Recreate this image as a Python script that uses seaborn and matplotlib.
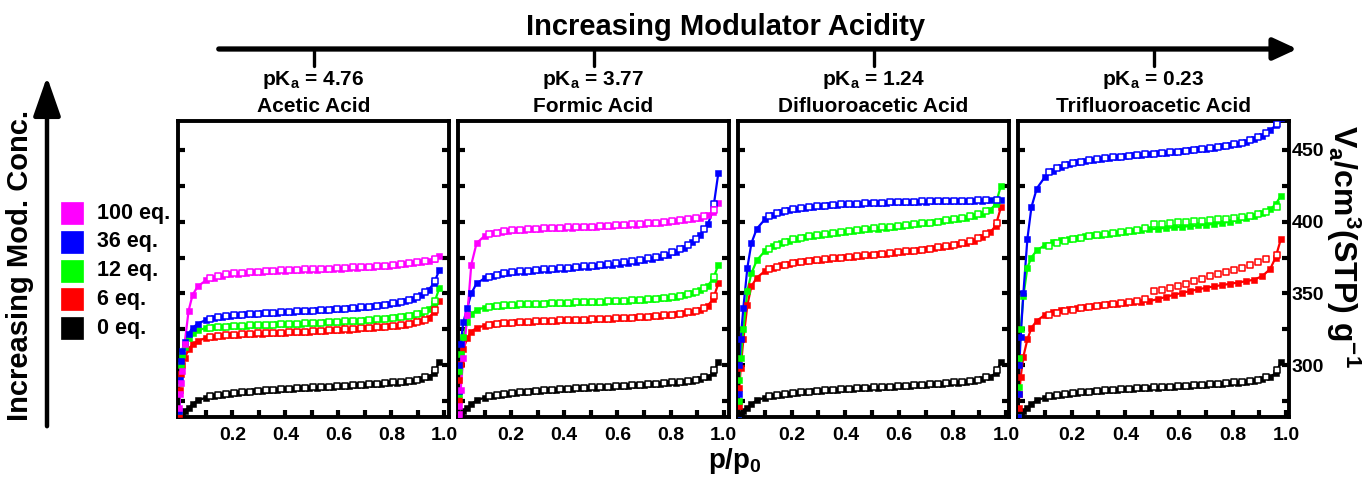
import numpy as np
import pandas as pd
import matplotlib.pyplot as plt
import seaborn as sns
from matplotlib.patches import Rectangle, FancyArrowPatch
from matplotlib.lines import Line2D

# ==========================================
# DATA (read off the isotherms)
# ==========================================
p_ads = [0.0005, 0.002, 0.005, 0.01, 0.02, 0.035, 0.05, 0.07, 0.10, 0.13, 0.16, 0.19, 0.22,
         0.25, 0.28, 0.31, 0.34, 0.37, 0.40, 0.43, 0.46, 0.49, 0.52, 0.55, 0.58, 0.61, 0.64,
         0.67, 0.70, 0.73, 0.76, 0.79, 0.82, 0.85, 0.88, 0.91, 0.94, 0.96, 0.98]
p_des = [0.965, 0.925, 0.895, 0.865, 0.835, 0.805, 0.775, 0.745, 0.715, 0.685, 0.655, 0.625,
         0.595, 0.565, 0.535, 0.505, 0.475, 0.445, 0.415, 0.385, 0.355, 0.325, 0.295, 0.265,
         0.235, 0.205, 0.175, 0.145, 0.115]

# 0 eq. (unmodulated, same sample in every panel)
eq0_ads = [250, 258, 263, 266, 268.5, 270, 273, 275.5, 277.5, 278.7, 279.5, 280.2, 280.8, 281.3,
           281.8, 282.2, 282.6, 283.0, 283.3, 283.6, 283.9, 284.2, 284.5, 284.8, 285.1, 285.4,
           285.7, 286.0, 286.3, 286.7, 287.1, 287.5, 288.0, 288.6, 289.3, 290.3, 292.0, 294.5, 302]
eq0_des = [297, 291.5, 290.0, 289.2, 288.6, 288.1, 287.6, 287.2, 286.8, 286.4, 286.1, 285.8, 285.5,
           285.2, 284.9, 284.6, 284.3, 284.0, 283.7, 283.4, 283.0, 282.6, 282.2, 281.7, 281.2,
           280.7, 280.1, 279.3, 278.3]

# Acetic acid
aa100_ads = [270, 280, 288, 296, 315, 338, 349, 355, 359, 361, 362.3, 363.2, 363.8, 364.3, 364.7,
             365.0, 365.3, 365.6, 365.8, 366.0, 366.2, 366.4, 366.6, 366.8, 367.0, 367.3, 367.6,
             367.9, 368.2, 368.5, 368.9, 369.3, 369.8, 370.3, 371.0, 371.8, 372.8, 374.0, 376]
aa100_des = [374.3, 372.5, 371.6, 370.9, 370.3, 369.8, 369.4, 369.0, 368.7, 368.4, 368.1, 367.8,
             367.5, 367.3, 367.1, 366.9, 366.7, 366.5, 366.3, 366.1, 365.8, 365.5, 365.2, 364.8,
             364.4, 363.9, 363.2, 362.3, 361.0]
aa36_ads = [268, 290, 303, 310, 316, 322, 326, 329, 331.5, 332.8, 333.8, 334.5, 335.0, 335.4, 335.8,
            336.1, 336.4, 336.7, 337.0, 337.3, 337.6, 337.9, 338.2, 338.5, 338.9, 339.3, 339.7,
            340.1, 340.6, 341.1, 341.7, 342.4, 343.3, 344.5, 346.2, 348.7, 352.5, 357, 366]
aa36_des = [358.5, 351, 347.8, 345.6, 344.1, 343.0, 342.2, 341.5, 340.9, 340.4, 339.9, 339.5, 339.1,
            338.7, 338.4, 338.1, 337.8, 337.5, 337.2, 336.9, 336.6, 336.3, 336.0, 335.6, 335.2,
            334.7, 334.1, 333.3, 332.2]
aa12_ads = [268, 288, 300, 307, 313, 319, 322.5, 324.5, 325.8, 326.4, 326.8, 327.1, 327.4, 327.6,
            327.8, 328.0, 328.2, 328.4, 328.6, 328.8, 329.0, 329.2, 329.5, 329.8, 330.1, 330.4,
            330.7, 331.0, 331.4, 331.8, 332.2, 332.7, 333.3, 334.0, 335.0, 336.5, 339.0, 342.5, 353.5]
aa12_des = [344.5, 337.8, 335.8, 334.6, 333.7, 333.0, 332.4, 331.9, 331.5, 331.1, 330.8, 330.5,
            330.2, 329.9, 329.6, 329.3, 329.1, 328.9, 328.7, 328.5, 328.3, 328.1, 327.9, 327.7,
            327.5, 327.2, 326.9, 326.5, 326.0]
aa6_ads = [266, 283, 294, 300, 305, 311, 314.5, 317, 319, 320, 320.6, 321.0, 321.3, 321.6, 321.9,
           322.1, 322.3, 322.5, 322.7, 322.9, 323.1, 323.3, 323.6, 323.9, 324.2, 324.5, 324.8,
           325.2, 325.6, 326.0, 326.5, 327.0, 327.6, 328.3, 329.2, 330.5, 333, 337, 345]
aa6_des = [338.5, 331.8, 330.0, 328.9, 328.1, 327.4, 326.9, 326.4, 326.0, 325.6, 325.2, 324.9, 324.6,
           324.3, 324.0, 323.7, 323.4, 323.2, 323.0, 322.8, 322.6, 322.4, 322.2, 321.9, 321.6,
           321.3, 320.9, 320.4, 319.7]

# Formic acid
fa100_ads = [262, 266, 272, 283, 305, 335, 370, 385, 390, 391.8, 392.8, 393.4, 393.9, 394.3, 394.6,
             394.9, 395.2, 395.4, 395.6, 395.8, 396.0, 396.2, 396.4, 396.7, 397.0, 397.3, 397.6,
             397.9, 398.3, 398.7, 399.2, 399.7, 400.3, 401.0, 401.8, 402.8, 404.5, 407, 413]
fa100_des = [408, 404.0, 402.4, 401.5, 400.8, 400.2, 399.7, 399.2, 398.8, 398.4, 398.0, 397.7, 397.4,
             397.1, 396.8, 396.5, 396.3, 396.1, 395.9, 395.7, 395.5, 395.2, 394.9, 394.6, 394.2,
             393.8, 393.2, 392.4, 391.2]
fa36_ads = [264, 282, 300, 315, 330, 340, 350, 357, 360.5, 362.2, 363.3, 364.1, 364.7, 365.2, 365.7,
            366.1, 366.5, 366.9, 367.3, 367.7, 368.1, 368.5, 369.0, 369.5, 370.1, 370.7, 371.4,
            372.2, 373.1, 374.1, 375.4, 377.0, 379.0, 381.8, 385.5, 390.5, 398, 408, 434]
fa36_des = [412, 395, 388, 384, 381, 378.8, 377.0, 375.6, 374.4, 373.4, 372.5, 371.7, 371.0, 370.4,
            369.8, 369.3, 368.8, 368.4, 368.0, 367.6, 367.2, 366.8, 366.4, 365.9, 365.4, 364.8,
            364.0, 363.0, 361.7]
fa12_ads = [264, 280, 296, 308, 320, 330, 335.5, 338.5, 340.2, 341.0, 341.5, 341.9, 342.2, 342.4,
            342.6, 342.8, 343.0, 343.2, 343.4, 343.5, 343.7, 343.9, 344.1, 344.3, 344.5, 344.7,
            345.0, 345.3, 345.6, 346.0, 346.5, 347.1, 347.8, 348.8, 350.2, 352.3, 355.5, 360, 370]
fa12_des = [361.5, 353.8, 351.2, 349.6, 348.5, 347.6, 346.9, 346.3, 345.9, 345.5, 345.2, 344.9,
            344.7, 344.5, 344.3, 344.1, 343.9, 343.7, 343.5, 343.3, 343.1, 342.9, 342.7, 342.5,
            342.3, 342.0, 341.7, 341.3, 340.7]
fa6_ads = [264, 276, 290, 301, 311, 319, 323.5, 326, 327.6, 328.5, 329.1, 329.5, 329.8, 330.1, 330.4,
           330.6, 330.8, 331.0, 331.2, 331.4, 331.6, 331.8, 332.0, 332.2, 332.4, 332.7, 333.0,
           333.3, 333.6, 334.0, 334.4, 334.9, 335.5, 336.2, 337.2, 338.7, 341.5, 346, 357]
fa6_des = [348, 340, 338, 336.8, 335.9, 335.2, 334.7, 334.2, 333.8, 333.5, 333.2, 332.9, 332.6,
           332.4, 332.2, 332.0, 331.8, 331.6, 331.4, 331.2, 331.0, 330.8, 330.6, 330.3, 330.0,
           329.7, 329.3, 328.8, 328.1]

# Difluoroacetic acid
dfa36_ads = [262, 280, 300, 318, 340, 368, 385, 395, 401.5, 404.8, 406.8, 408.1, 409.0, 409.7,
             410.3, 410.8, 411.2, 411.6, 411.9, 412.2, 412.5, 412.7, 412.9, 413.1, 413.3, 413.5,
             413.7, 413.8, 413.9, 414.0, 414.1, 414.2, 414.3, 414.4, 414.5, 414.6, 414.7, 414.8, 415]
dfa36_des = [414.9, 414.8, 414.7, 414.6, 414.5, 414.4, 414.3, 414.2, 414.1, 414.0, 413.9, 413.8,
             413.6, 413.4, 413.2, 413.0, 412.8, 412.5, 412.2, 411.9, 411.5, 411.1, 410.6, 410.1,
             409.4, 408.6, 407.5, 406.0, 403.8]
dfa12_ads = [262, 275, 290, 305, 325, 352, 364, 373, 379.5, 383, 385.2, 386.8, 388.0, 389.0, 389.9,
             390.7, 391.4, 392.1, 392.8, 393.4, 394.0, 394.6, 395.1, 395.7, 396.3, 396.9, 397.5,
             398.1, 398.7, 399.4, 400.1, 400.9, 401.8, 402.8, 404.0, 405.6, 408.2, 412, 425]
dfa12_des = [414, 407.4, 405.2, 403.7, 402.6, 401.6, 400.8, 400.0, 399.3, 398.7, 398.1, 397.5, 397.0,
             396.4, 395.9, 395.3, 394.8, 394.2, 393.6, 393.0, 392.3, 391.6, 390.8, 389.9, 388.9,
             387.6, 386.0, 383.8, 380.8]
dfa6_ads = [262, 272, 284, 298, 318, 342, 355, 361, 365.5, 368, 369.6, 370.8, 371.7, 372.4, 373.0,
            373.6, 374.1, 374.6, 375.1, 375.6, 376.1, 376.6, 377.1, 377.6, 378.2, 378.8, 379.4,
            380.0, 380.7, 381.4, 382.2, 383.1, 384.1, 385.3, 386.8, 389.0, 392.5, 397, 410]
dfa6_des = [399, 391.2, 388.3, 386.4, 385.0, 383.9, 382.9, 382.0, 381.2, 380.5, 379.8, 379.2, 378.6,
            378.0, 377.5, 377.0, 376.5, 376.0, 375.5, 375.0, 374.4, 373.8, 373.2, 372.5, 371.8,
            371.0, 370.0, 368.7, 366.8]

# Trifluoroacetic acid
tfa36_ads = [264, 280, 300, 320, 350, 388, 410, 423, 431, 435.5, 438.2, 440.0, 441.3, 442.3, 443.1,
             443.8, 444.4, 445.0, 445.5, 446.0, 446.5, 447.0, 447.5, 448.0, 448.5, 449.0, 449.6,
             450.2, 450.8, 451.5, 452.3, 453.2, 454.3, 455.6, 457.3, 459.8, 463.5, 467, 472]
tfa36_des = [468, 461.5, 458.6, 456.5, 455.0, 453.8, 452.8, 451.9, 451.1, 450.4, 449.8, 449.2, 448.7,
             448.2, 447.7, 447.2, 446.7, 446.2, 445.7, 445.2, 444.7, 444.1, 443.5, 442.7, 441.8,
             440.7, 439.2, 437.2, 434.5]
tfa12_ads = [264, 285, 305, 325, 348, 368, 375, 380, 383.5, 385.5, 386.9, 388.0, 388.9, 389.7, 390.4,
             391.0, 391.6, 392.2, 392.8, 393.4, 394.0, 394.6, 395.1, 395.6, 396.0, 396.4, 396.8,
             397.3, 397.8, 398.4, 399.1, 399.9, 400.9, 402.2, 403.8, 405.8, 408.5, 412, 418]
tfa12_des = [410, 407.0, 405.0, 403.8, 403.0, 402.4, 401.9, 401.5, 401.1, 400.7, 400.3, 399.9, 399.5,
             399.1, 398.6, 398.0, 395.2, 394.2, 393.4, 392.7, 392.0, 391.3, 390.6, 389.8, 388.9,
             387.8, 386.6, 385.0, 383.0]
tfa6_ads = [262, 270, 280, 292, 306, 318, 326, 331, 335, 337.2, 338.5, 339.4, 340.1, 340.7, 341.3,
            341.8, 342.3, 342.8, 343.3, 343.8, 344.3, 344.7, 346.0, 347.5, 349.0, 350.3, 351.6,
            352.8, 353.9, 354.9, 355.8, 356.7, 357.6, 358.5, 359.6, 362, 367, 375, 388]
tfa6_des = [377, 373.8, 372.2, 370.0, 368.0, 366.3, 364.8, 363.4, 362.1, 360.0, 358.4, 356.9, 355.5,
            354.1, 352.7, 351.4, 346.0, 345.0, 344.1, 343.3, 342.6, 341.9, 341.2, 340.5, 339.7,
            338.8, 337.8, 336.5, 334.8]

pka_labels = ["4.76", "3.77", "1.24", "0.23"]
acid_names = ["Acetic Acid", "Formic Acid", "Difluoroacetic Acid", "Trifluoroacetic Acid"]
legend_labels = ["100 eq.", "36 eq.", "12 eq.", "6 eq.", "0 eq."]

# ==========================================
# STYLE
# ==========================================
sns.set_style("white")
plt.rcParams['font.family'] = ['Liberation Sans', 'DejaVu Sans']
plt.rcParams['font.weight'] = 'bold'
plt.rcParams['text.color'] = 'black'
plt.rcParams['axes.edgecolor'] = 'black'
plt.rcParams['xtick.color'] = 'black'
plt.rcParams['ytick.color'] = 'black'
plt.rcParams['mathtext.fontset'] = 'custom'
plt.rcParams['mathtext.bf'] = 'Liberation Sans:bold'
plt.rcParams['mathtext.rm'] = 'Liberation Sans:bold'
plt.rcParams['mathtext.it'] = 'Liberation Sans:bold'
plt.rcParams['mathtext.default'] = 'bf'

cores = {"100": "#ff00ff", "36": "#0000ff", "12": "#00ff00", "6": "#ff0000", "0": "#000000"}

paineis = [
    ((-0.005, 1.017), [("0", eq0_ads, eq0_des), ("6", aa6_ads, aa6_des), ("12", aa12_ads, aa12_des),
                       ("36", aa36_ads, aa36_des), ("100", aa100_ads, aa100_des)]),
    ((0.0, 1.02), [("0", eq0_ads, eq0_des), ("6", fa6_ads, fa6_des), ("12", fa12_ads, fa12_des),
                   ("36", fa36_ads, fa36_des), ("100", fa100_ads, fa100_des)]),
    ((0.0, 1.01), [("0", eq0_ads, eq0_des), ("6", dfa6_ads, dfa6_des), ("12", dfa12_ads, dfa12_des),
                   ("36", dfa36_ads, dfa36_des)]),
    ((0.0, 1.01), [("0", eq0_ads, eq0_des), ("6", tfa6_ads, tfa6_des), ("12", tfa12_ads, tfa12_des),
                   ("36", tfa36_ads, tfa36_des)]),
]

W, H = 1370, 478
fig = plt.figure(figsize=(W / 100, H / 100), dpi=100)

def fx(x):
    return x / W

def fy(y):
    return 1 - y / H

lefts = [178, 458, 738, 1018]
top, bottom, largura = 121, 417, 271

yticks = [275, 300, 325, 350, 375, 400, 425, 450]
xticks = [0.1, 0.2, 0.3, 0.4, 0.5, 0.6, 0.7, 0.8, 0.9, 1.0]
xlabels = ["", "0.2", "", "0.4", "", "0.6", "", "0.8", "", "1.0"]

for i, (xlim, series) in enumerate(paineis):
    ax = fig.add_axes([fx(lefts[i]), fy(bottom), largura / W, (bottom - top) / H])
    for key, ads, des in series:
        c = cores[key]
        df_a = pd.DataFrame({"p": p_ads, "v": ads})
        df_d = pd.DataFrame({"p": p_des, "v": des})
        sns.lineplot(data=df_a, x="p", y="v", color=c, lw=1.6, sort=False, ax=ax)
        sns.scatterplot(data=df_a, x="p", y="v", marker="s", s=19, color=c, edgecolor=c,
                        linewidth=0.4, ax=ax, zorder=3)
        sns.scatterplot(data=df_d, x="p", y="v", marker="s", s=15, color="white", edgecolor=c,
                        linewidth=1.1, ax=ax, zorder=4)
    ax.set_xlim(*xlim)
    ax.set_ylim(264, 470)
    ax.set_xticks(xticks)
    ax.set_xticklabels(xlabels)
    ax.set_yticks(yticks)
    ax.set_xlabel("")
    ax.set_ylabel("")
    for s in ax.spines.values():
        s.set_linewidth(2.8)
        s.set_color("black")
    ax.tick_params(axis="both", direction="in", length=5, width=3, labelsize=14,
                   left=True, right=True, top=False, bottom=True, labelleft=False, pad=7)
    if i == 3:
        ax.set_yticklabels(["", "300", "", "350", "", "400", "", "450"])
        ax.tick_params(axis="y", labelright=True, pad=2)
    else:
        ax.tick_params(axis="y", labelright=False)
    for lab in ax.get_xticklabels() + ax.get_yticklabels():
        lab.set_fontweight("bold")

    cx = lefts[i] + largura / 2
    fig.text(fx(cx), fy(80), f"p$K_a$ = {pka_labels[i]}", ha="center", va="center", fontsize=15)
    fig.text(fx(cx), fy(107), acid_names[i], ha="center", va="center", fontsize=15)
    fig.add_artist(Line2D([fx(cx), fx(cx)], [fy(49), fy(66)], color="black", lw=2.4,
                          transform=fig.transFigure))

# seta superior
fig.text(fx(726), fy(27), "Increasing Modulator Acidity", ha="center", va="center", fontsize=21)
fig.add_artist(FancyArrowPatch((fx(216), fy(49)), (fx(1300), fy(49)), transform=fig.transFigure,
                               arrowstyle="-|>,head_length=0.65,head_width=0.3",
                               mutation_scale=22, lw=3.8, color="black"))

# seta lateral
fig.text(fx(20), fy(265), "Increasing Mod. Conc.", rotation=90, ha="center", va="center",
         fontsize=21)
fig.add_artist(FancyArrowPatch((fx(47), fy(429)), (fx(47), fy(74)), transform=fig.transFigure,
                               arrowstyle="-|>,head_length=1.0,head_width=0.35",
                               mutation_scale=24, lw=3.2, color="black"))

# legenda manual
for k, (key, lab) in enumerate(zip(["100", "36", "12", "6", "0"], legend_labels)):
    yc = 213 + k * 28.8
    fig.add_artist(Rectangle((fx(61), fy(yc + 11)), 22 / W, 22 / H, transform=fig.transFigure,
                             facecolor=cores[key], edgecolor=cores[key], lw=0.5))
    fig.text(fx(97), fy(yc), lab, ha="left", va="center", fontsize=15.5)

# rótulos dos eixos
fig.text(fx(735), fy(461), "p/$p_0$", ha="center", va="center", fontsize=20)
fig.text(fx(1343), fy(246), "$V_a$/cm$^3$(STP) g$^{-1}$", rotation=270, ha="center", va="center",
         fontsize=23)

plt.savefig("out.png", dpi=100)
